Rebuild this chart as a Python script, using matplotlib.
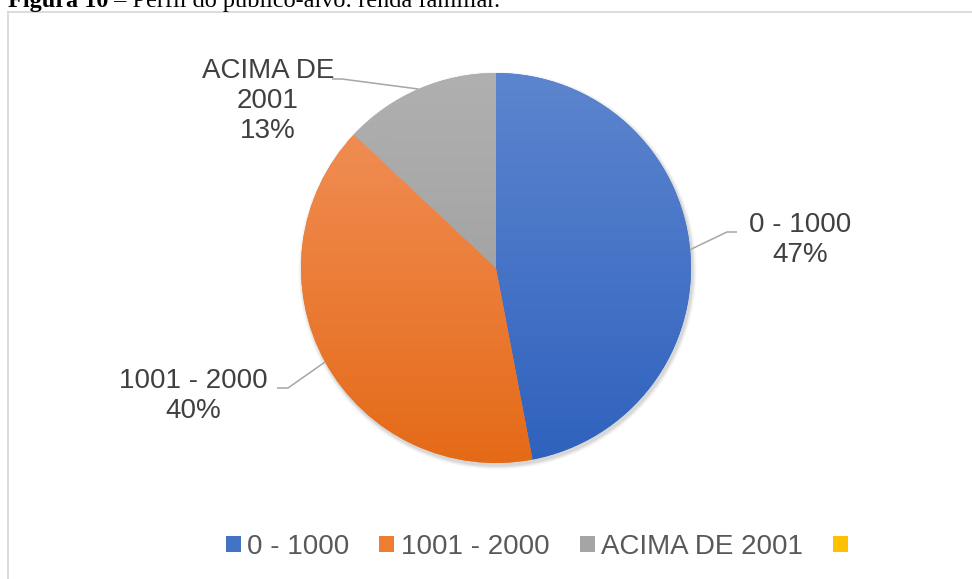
import numpy as np
import matplotlib
matplotlib.use('Agg')
import matplotlib.pyplot as plt
from matplotlib.patches import Patch, Circle
from matplotlib.colors import to_rgb

# ---- data ----
categories = ['0 - 1000', '1001 - 2000', 'ACIMA DE 2001', '']
values = [47, 40, 13, 0]
label_names = ['0 - 1000', '1001 - 2000', 'ACIMA DE\n2001', '']
base_colors = ['#4472C4', '#ED7D31', '#A5A5A5', '#FFC000']
top_colors = ['#5D85CF', '#F2935E', '#B0B0B0', '#FFCB3D']
bottom_colors = ['#2F62BD', '#E56A17', '#989898', '#F2B700']
title_bold = 'Figura 10'
title_rest = ' \u2013 Perfil do p\u00fablico-alvo: renda familiar.'

W, H = 972, 579
fig = plt.figure(figsize=(W / 100, H / 100), dpi=100)
ax = fig.add_axes([0, 0, 1, 1])

cx, cy, R = 496, H - 268, 195

# soft shadow
for k, a in [(4, 0.025), (3, 0.035), (2, 0.045), (1, 0.06)]:
    ax.add_patch(Circle((cx + 1.5, cy - 2.5), R + k, facecolor='k', alpha=a,
                        lw=0, zorder=1))

wedges, _ = ax.pie(values, colors=base_colors, startangle=90, counterclock=False,
                   center=(cx, cy), radius=R, frame=True,
                   wedgeprops=dict(linewidth=0, zorder=2))

# vertical gradient fill, clipped to each wedge
N = 256
t = np.linspace(0, 1, N)[:, None]
for w, tc, bc in zip(wedges, top_colors, bottom_colors):
    grad = (1 - t) * np.array(to_rgb(tc)) + t * np.array(to_rgb(bc))
    im = ax.imshow(grad[:, None, :], extent=[cx - R, cx + R, cy - R, cy + R],
                   origin='upper', aspect='auto', zorder=3, interpolation='bilinear')
    im.set_clip_path(w)

# data labels with leader lines
label_pos = [(800, H - 240), (193, H - 396), (268, H - 101)]
elbows = [((727, H - 232), (737, H - 232)),
          ((288, H - 388), (277, H - 388)),
          ((342, H - 79), (332, H - 79))]
total = sum(values)
for i, w in enumerate(wedges):
    if values[i] == 0:
        continue
    mid = np.deg2rad((w.theta1 + w.theta2) / 2)
    ex, ey = cx + R * np.cos(mid), cy + R * np.sin(mid)
    (x1, y1), (x2, y2) = elbows[i]
    ax.plot([ex, x1, x2], [ey, y1, y2], color='#A6A6A6', lw=1.1, zorder=4,
            solid_capstyle='butt')
    pct = f"{round(100 * values[i] / total)}%"
    ax.text(label_pos[i][0], label_pos[i][1], f"{label_names[i]}\n{pct}",
            ha='center', va='center', multialignment='center',
            fontsize=20, family='Liberation Sans', color='#404040',
            linespacing=1.2, zorder=5)

# frame lines (chart area border)
ax.plot([7.5, 7.5], [0, H - 12], color='#D9D9D9', lw=1.3, zorder=0)
ax.plot([7.5, W], [H - 12, H - 12], color='#D9D9D9', lw=1.3, zorder=0)

ax.set_xlim(0, W)
ax.set_ylim(0, H)
ax.set_aspect('auto')
ax.axis('off')

# legend
handles = [Patch(facecolor=c, edgecolor='none') for c in base_colors]
fig.legend(handles, categories, loc='center', bbox_to_anchor=(540 / W, 1 - 547 / H),
           ncol=4, frameon=False, prop={'family': 'Liberation Sans', 'size': 20},
           handlelength=0.54, handleheight=0.54, handletextpad=0.22,
           columnspacing=1.1, borderpad=0, labelcolor='#595959')

# caption (cut off at the top)
t1 = fig.text(8 / W, 1 - 7 / H, title_bold, family='Liberation Serif',
              fontweight='bold', fontsize=17.5, va='baseline', ha='left')
renderer = fig.canvas.get_renderer()
bb = t1.get_window_extent(renderer)
fig.text(bb.x1 / W, 1 - 7 / H, title_rest, family='Liberation Serif',
         fontsize=17.5, va='baseline', ha='left')

fig.savefig('out.png', dpi=100)
